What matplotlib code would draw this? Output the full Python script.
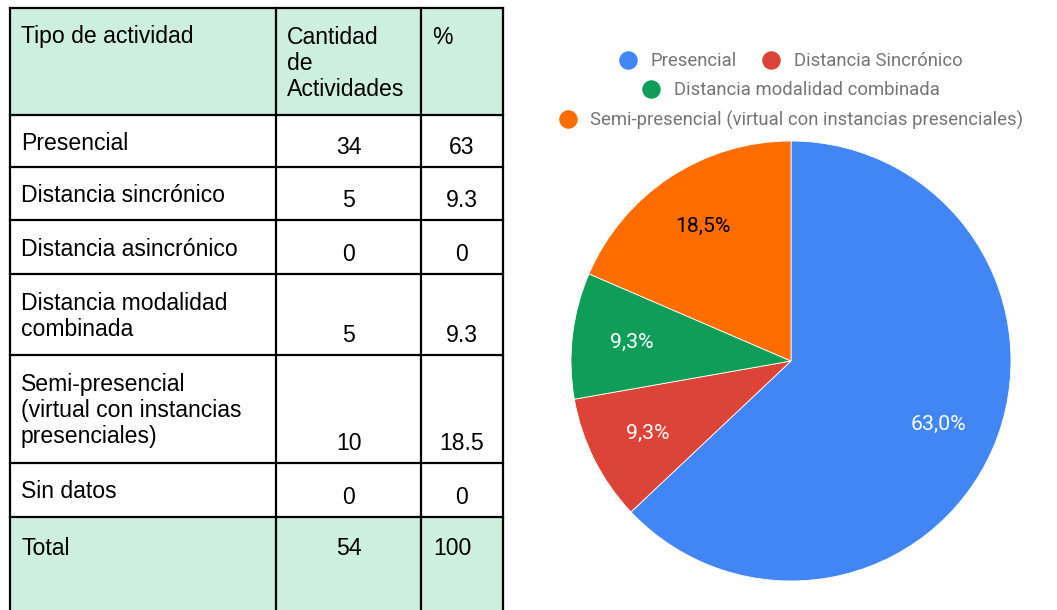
import matplotlib.pyplot as plt
from matplotlib.lines import Line2D

# datos de la tabla
header = ["Tipo de actividad", "Cantidad\nde\nActividades", "%"]
tipos = ["Presencial", "Distancia sincrónico", "Distancia asincrónico",
         "Distancia modalidad\ncombinada",
         "Semi-presencial\n(virtual con instancias\npresenciales)", "Sin datos"]
cantidades = [34, 5, 0, 5, 10, 0]
porcentajes = ["63", "9.3", "0", "9.3", "18.5", "0"]
total_label = "Total"
total_cantidad = 54
total_pct = 100

# datos del gráfico de torta
pie_labels = ["Presencial", "Distancia Sincrónico", "Distancia modalidad combinada",
              "Semi-presencial (virtual con instancias presenciales)"]
pie_values = [34, 5, 5, 10]
pie_colors = ["#4285f4", "#db4437", "#0f9d58", "#ff6d01"]
label_colors = ["white", "white", "white", "black"]

W, H = 1057, 610
fig = plt.figure(figsize=(W / 100, H / 100), dpi=100)

# ---- tabla (coordenadas en pixeles) ----
ax = fig.add_axes([0, 0, 1, 1])
ax.set_xlim(0, W)
ax.set_ylim(H, 0)
ax.axis("off")

col_edges = [10, 276, 421, 503]
row_edges = [8, 115, 167, 220, 274, 355, 463, 517, 640]
green = "#cdefdf"
tfont = dict(family="Liberation Sans", fontsize=16.6, color="black")

ax.axhspan(row_edges[0], row_edges[1], xmin=col_edges[0] / W, xmax=col_edges[-1] / W,
           color=green, zorder=0)
ax.axhspan(row_edges[-2], row_edges[-1], xmin=col_edges[0] / W, xmax=col_edges[-1] / W,
           color=green, zorder=0)
for y in row_edges[:-1]:
    ax.plot([col_edges[0], col_edges[-1]], [y, y], color="black", lw=1.6,
            solid_capstyle="projecting")
for x in col_edges:
    ax.plot([x, x], [row_edges[0], row_edges[-1]], color="black", lw=1.6,
            solid_capstyle="projecting")

pad_x = 11
pad_top = 17.5
ls = 1.17
# encabezado
for j, h in enumerate(header):
    ax.text(col_edges[j] + pad_x, row_edges[0] + pad_top, h, va="top", ha="left",
            linespacing=ls, **tfont)

# filas
for i, (t, c, p) in enumerate(zip(tipos, cantidades, porcentajes)):
    top, bot = row_edges[i + 1], row_edges[i + 2]
    ax.text(col_edges[0] + pad_x, top + pad_top, t, va="top", ha="left",
            linespacing=ls, **tfont)
    ax.text((col_edges[1] + col_edges[2]) / 2, bot - 13, str(c), va="baseline",
            ha="center", **tfont)
    ax.text((col_edges[2] + col_edges[3]) / 2, bot - 13, p, va="baseline",
            ha="center", **tfont)

# total
top = row_edges[-2]
ax.text(col_edges[0] + pad_x, top + 20, total_label, va="top", ha="left", **tfont)
ax.text((col_edges[1] + col_edges[2]) / 2, top + 20, str(total_cantidad), va="top",
        ha="center", **tfont)
ax.text(col_edges[2] + 12, top + 20, str(total_pct), va="top", ha="left", **tfont)

# ---- gráfico de torta ----
cx, cy, r = 791, 361, 220
axp = fig.add_axes([(cx - r) / W, (H - cy - r) / H, 2 * r / W, 2 * r / H])
wedges, texts, autotexts = axp.pie(
    pie_values, colors=pie_colors, startangle=90, counterclock=False,
    autopct=lambda v: f"{v:.1f}%".replace(".", ","), pctdistance=0.73,
    wedgeprops=dict(linewidth=0.6, edgecolor="white"),
    textprops=dict(family="Roboto", fontsize=15.3))
for t, col in zip(autotexts, label_colors):
    t.set_color(col)
axp.set_xlim(-1, 1)
axp.set_ylim(-1, 1)
axp.set_aspect("equal")
axp.axis("off")

# leyenda en filas centradas
handles = [Line2D([], [], marker="o", linestyle="none", markersize=12.3,
                  markerfacecolor=c, markeredgecolor=c) for c in pie_colors]
rows = [([0, 1], 61), ([2], 90), ([3], 120)]
for idxs, ry in rows:
    leg = fig.legend([handles[k] for k in idxs], [pie_labels[k] for k in idxs],
                     loc="center", bbox_to_anchor=(cx / W, 1 - ry / H),
                     ncol=len(idxs), frameon=False, handlelength=0.95,
                     handletextpad=0.75, columnspacing=1.4, borderpad=0,
                     borderaxespad=0,
                     prop=dict(family="Roboto", size=13.3))
    for txt in leg.get_texts():
        txt.set_color("#757575")

fig.savefig("out.png", dpi=100)
